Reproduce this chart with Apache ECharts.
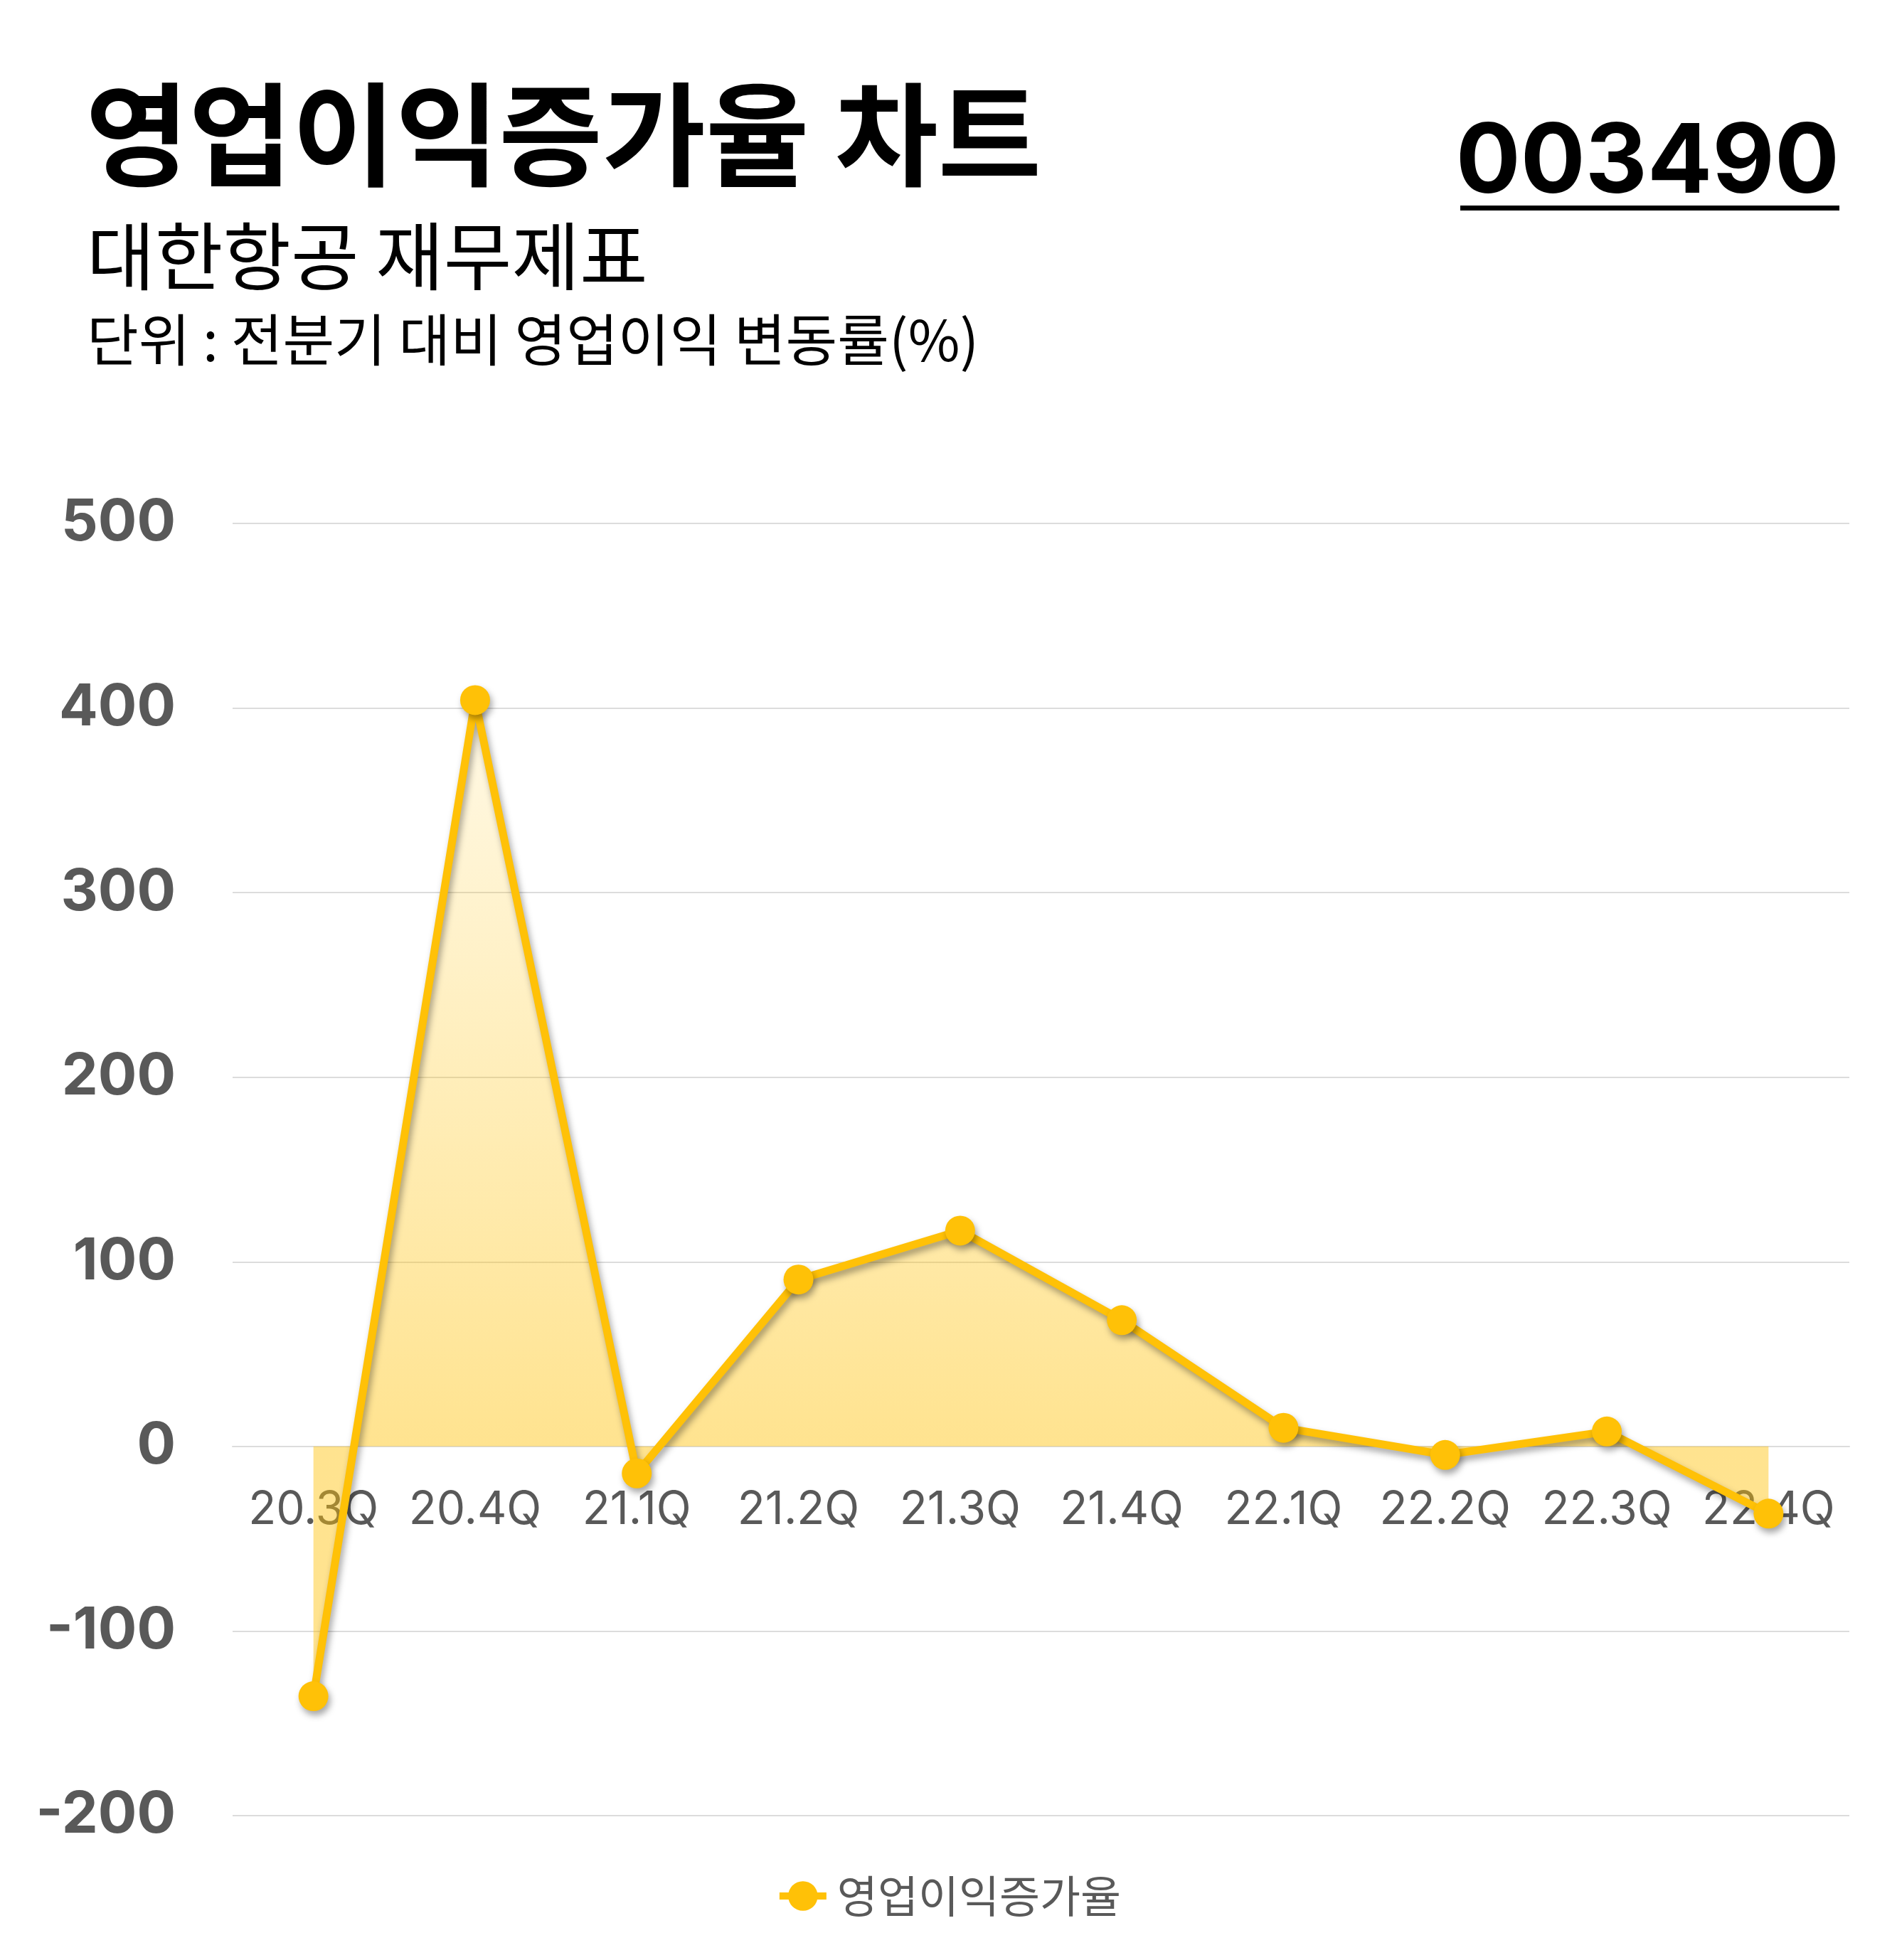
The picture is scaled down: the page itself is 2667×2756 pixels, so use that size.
<!DOCTYPE html>
<html>
<head>
<meta charset="utf-8">
<script src="https://cdn.jsdelivr.net/npm/echarts@6/dist/echarts.min.js"></script>
<style>
html,body{margin:0;padding:0;background:#fff;}
#chart{width:2667px;height:2756px;}
</style>
</head>
<body>
<div id="chart"></div>
<script>
const categories = ['20.3Q','20.4Q','21.1Q','21.2Q','21.3Q','21.4Q','22.1Q','22.2Q','22.3Q','22.4Q'];
const growthRate = [-135.3, 404.3, -14.6, 90.4, 116.9, 68.4, 10.1, -4.6, 8.1, -36.4];
const seriesName = '영업이익증가율';
const titleText = '영업이익증가율 차트';
const subtitleText = '대한항공 재무제표';
const unitText = '단위 : 전분기 대비 영업이익 변동률(%)';
const codeText = '003490';
const yMin = -200, yMax = 500, yStep = 100;

const chart = echarts.init(document.getElementById('chart'), null, {renderer:'canvas'});
const KR = '"Noto Sans CJK KR", "Noto Sans", sans-serif';
const option = {
  backgroundColor:'#ffffff',
  animation:false,
  graphic:[
    {type:'text', left:120, top:110, style:{text:titleText, font:'bold 158px ' + KR, fill:'#000'}},
    {type:'text', left:122, top:308, style:{text:subtitleText, font:'104px ' + KR, fill:'#000'}},
    {type:'text', left:122, top:438, style:{text:unitText, font:'79px ' + KR, fill:'#000'}},
    {type:'text', right:81, top:163, style:{text:codeText, font:'bold 135px Inter, sans-serif', fill:'#000'}},
    {type:'rect', shape:{x:2053, y:289, width:533, height:7}, style:{fill:'#000'}}
  ],
  legend:{
    data:[seriesName],
    left:'center',
    top:2630,
    itemWidth:66,
    itemHeight:52,
    lineStyle:{width:10},
    textStyle:{fontSize:62, fontFamily:KR, color:'#595959', padding:[0,0,0,10]}
  },
  grid:{left:327, right:67, top:736, bottom:203, containLabel:false},
  xAxis:{
    type:'category',
    data:categories,
    boundaryGap:true,
    axisLine:{show:true, onZero:true, lineStyle:{color:'#dcdcdc', width:2}},
    axisTick:{show:false},
    axisLabel:{fontSize:64, fontFamily:'Inter, sans-serif', color:'#595959', margin:58, interval:0}
  },
  yAxis:{
    type:'value',
    min:yMin, max:yMax, interval:yStep,
    axisLine:{show:false},
    axisTick:{show:false},
    axisLabel:{fontSize:81, fontWeight:'bold', fontFamily:'Inter, sans-serif', color:'#595959', margin:80},
    splitLine:{lineStyle:{color:'#dcdcdc', width:2}}
  },
  series:[{
    name:seriesName,
    type:'line',
    data:growthRate,
    symbol:'circle',
    symbolSize:42,
    showAllSymbol:true,
    z:5,
    lineStyle:{color:'#FFC107', width:11, shadowColor:'rgba(0,0,0,0.35)', shadowBlur:10, shadowOffsetX:3, shadowOffsetY:6},
    itemStyle:{color:'#FFC107', shadowColor:'rgba(0,0,0,0.35)', shadowBlur:10, shadowOffsetX:3, shadowOffsetY:6},
    areaStyle:{
      opacity:1,
      color:new echarts.graphic.LinearGradient(0,0,0,1,[
        {offset:0, color:'rgba(255,193,7,0.10)'},
        {offset:0.75, color:'rgba(255,193,7,0.45)'},
        {offset:1, color:'rgba(255,193,7,0.45)'}
      ])
    }
  }]
};
chart.setOption(option);
// place the category axis on the zero line of the value axis
const zeroY = chart.convertToPixel({yAxisIndex:0}, 0);
const bottomY = chart.convertToPixel({yAxisIndex:0}, yMin);
if (Math.abs(bottomY - zeroY) > 1) {
  chart.setOption({xAxis:{offset: -(bottomY - zeroY)}});
}
</script>
</body>
</html>
